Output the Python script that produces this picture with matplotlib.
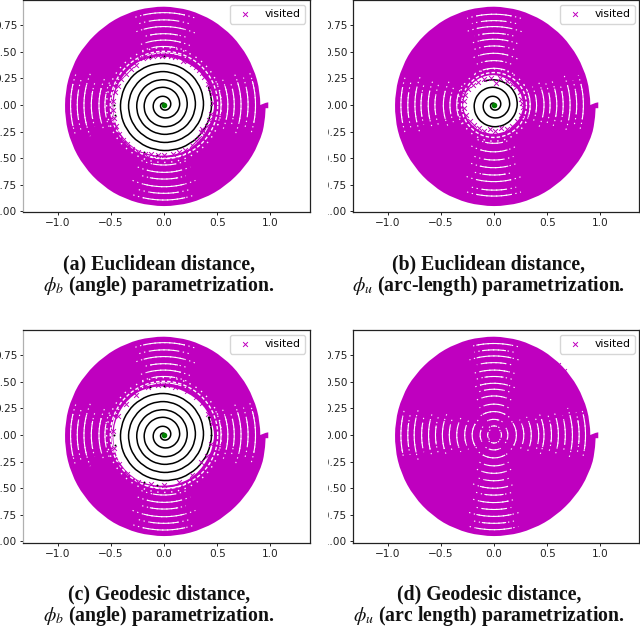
import numpy as np
import matplotlib
matplotlib.use("Agg")
import matplotlib.pyplot as plt
from matplotlib.path import Path
from matplotlib.patches import PathPatch
from matplotlib.transforms import Bbox

plt.rcParams['mathtext.fontset'] = 'stix'

# ---- outer edge of the visited region (polar: degrees, radius)
edge_deg = [0, 15, 30, 45, 60, 75, 90, 105, 120, 135, 150, 165, 180, 195, 210, 225, 240, 255, 270, 285, 300, 315, 330, 345, 356]
edge_r = [.905, .905, .905, .91, .915, .92, .924, .925, .925, .925, .93, .93, .93, .935, .94, .945, .95, .95, .95, .95, .95, .95, .955, .96, .955]
tip_x = [.955, .98, .98, .955]
tip_y = [-.03, -.03, .025, .02]

# ---- unvisited centre (polar)
hole_deg = [0, 30, 60, 90, 120, 150, 180, 210, 240, 270, 300, 330, 360]
hole_r_wide = [.47, .46, .45, .455, .47, .47, .475, .49, .49, .475, .475, .465, .47]
hole_r_narrow = [.275, .27, .27, .28, .285, .285, .29, .28, .275, .27, .27, .27, .275]

# ---- speckled ring just outside the centre
ring_wide = [.505, .54]
ring_narrow = [.305, .34]

# ---- black trajectory: radius at each 22.5 degree step
spiral_step_deg = 22.5
spiral_r = [0, .004, .008, .012, .016, .020, .024, .028, .032, .035, .039, .043, .047, .051, .055, .059,
            .063, .067, .071, .076, .081, .086, .091, .096, .101, .106, .111, .116, .121, .127, .133, .140,
            .147, .151, .156, .161, .166, .171, .176, .181, .186, .191, .196, .200, .204, .208, .212, .214,
            .218, .223, .228, .232, .237, .242, .247, .252, .256, .261, .266, .271, .276, .280, .285, .290,
            .295, .300, .304, .309, .314, .318, .323, .328, .333, .337, .342, .347, .352, .356, .361, .366,
            .371, .376, .381, .385, .390, .395, .400, .404, .409, .414, .419, .423, .428, .433, .438, .442,
            .447, .451]
spiral_n_wide = 98
spiral_n_narrow = 54

# ---- radii of the unvisited arcs on each axis arm
a_N = [.868, .80, .737, .67, .61, .55, .49]
a_E = [.86, .79, .724, .66, .60, .536]
a_W = [.878, .815, .752, .683, .611, .555, .49]
a_S = [.893, .83, .768, .696, .633, .564, .50]

b_N = [.853, .793, .737, .674, .618, .555, .486, .417, .345]
b_E = [.84, .777, .715, .65, .59, .527, .47, .40, .34]
b_W = [.875, .81, .743, .686, .618, .555, .476, .414, .35]
b_S = [.856, .80, .72, .658, .589, .517, .44, .36]

d_N = [.86, .80, .743, .68, .61, .55, .486, .43, .367, .29, .22, .147, .085]
d_E = [.86, .80, .737, .67, .605, .54, .47, .42, .35, .28, .21, .13, .07]
d_W = [.875, .81, .75, .68, .615, .55, .485, .42, .35, .275, .205, .13, .06]
d_S = [.89, .83, .765, .70, .635, .565, .50, .43, .36, .29, .215, .14, .075]

# ---- how far each arc reaches, relative to the panel's typical reach, outermost first
solid_reach = [1.0, .7, 1.05, .75, .95, .65, 1.0, .7, .9, .75, 1.0, .5, .3]
dotted_reach = [1.0, .85, 1.1, .8, 1.0, .9, 1.1, .85, 1.0, .9, 1.0, .6, .4]

# ---- scattered visited points around the centre
a_x = [-.2, -.15, -.1, -.06, -.02, .03, .07, .1, .18, .22, .26, .3, .33, .36, .38, .41, .43, .45, .46, .44, .42, .4, .37, .35, .36, .33, .3, .26, .2, .14, .08, .0, -.06, -.12, -.18, -.24, -.3, -.35, -.39, -.42, -.45, -.47, -.48, -.48, -.46, -.43, -.4, -.36, -.31, -.26]
a_y = [.44, .45, .46, .47, .46, .47, .46, .45, .41, .41, .39, .36, .33, .3, .26, .2, .16, .1, .02, -.08, -.14, -.2, -.24, -.25, -.23, -.31, -.34, -.38, -.42, -.44, -.46, -.47, -.47, -.46, -.46, -.44, -.41, -.37, -.33, -.27, -.2, -.12, -.05, .04, .12, .18, .24, .29, .34, .38]
b_x = [-.03, .02, .06, .12, .17, .21, .24, .25, .26, .27, .25, .22, .17, .12, .07, .01, -.04, -.09, -.14, -.19, -.23, -.26, -.28, -.28, -.27, -.24, -.2, -.15, -.09]
b_y = [.25, .21, .25, .23, .2, .17, .12, .06, .02, -.02, -.09, -.15, -.2, -.23, -.22, -.24, -.23, -.24, -.22, -.19, -.15, -.09, -.03, .04, .09, .15, .19, .22, .24]
c_x = [-.15, -.06, .03, .1, .22, .3, .36, .41, .45, .44, .4, .35, .26, .14, .0, -.12, -.24, -.35, -.42, -.47, -.48, -.43, -.36, -.26]
c_y = [.45, .47, .47, .45, .41, .36, .3, .2, .1, -.08, -.2, -.25, -.38, -.44, -.47, -.46, -.44, -.37, -.27, -.12, .04, .18, .29, .38]
d_x = [-.62, -.66, .6, .66, -.55, .58, .78, -.7]
d_y = [.63, .58, .66, .6, -.7, -.68, -.45, -.53]

# ---- isolated trajectory fragments beyond the hole edge
a_black_x = [-.47, .44, .42, -.46, -.07, -.19, .0, -.13]
a_black_y = [.0, .0, .17, -.09, -.47, -.44, .46, .45]

# ---- chart text and ticks
x_ticks = [-1.0, -0.5, 0.0, 0.5, 1.0]
y_ticks = [-1.0, -0.75, -0.5, -0.25, 0.0, 0.25, 0.5, 0.75]
captions = [
    ("(a) Euclidean distance,", r"$\phi_b$ (angle) parametrization."),
    ("(b) Euclidean distance,", r"$\phi_u$ (arc-length) parametrization."),
    ("(c) Geodesic distance,", r"$\phi_b$ (angle) parametrization."),
    ("(d) Geodesic distance,", r"$\phi_u$ (arc length) parametrization."),
]

W, H = 640, 628
PURPLE = 'm'
fig = plt.figure(figsize=(W / 100, H / 100), dpi=100)


def polar(deg, r):
    t = np.radians(np.asarray(deg, float))
    r = np.asarray(r, float)
    return r * np.cos(t), r * np.sin(t)


def curve_vertices(deg, r):
    """Quadratic Bezier vertices and codes through polar samples."""
    deg = np.asarray(deg, float)
    r = np.asarray(r, float)
    verts = [tuple(np.ravel(polar(deg[:1], r[:1])))]
    codes = [Path.MOVETO]
    for i in range(len(deg) - 1):
        step = deg[i + 1] - deg[i]
        mid_r = (r[i] + r[i + 1]) / 2 / np.cos(np.radians(step / 2))
        cx, cy = polar(deg[i] + step / 2, mid_r)
        ex, ey = polar(deg[i + 1], r[i + 1])
        verts += [(float(cx), float(cy)), (float(ex), float(ey))]
        codes += [Path.CURVE3, Path.CURVE3]
    return verts, codes


def draw_arm(ax, radii, centre_deg, half_solid, half_dotted, shift=0.0):
    for k, r in enumerate(radii):
        size = 0.5 + 0.5 * r / .9
        for half, style in ((half_dotted * dotted_reach[k] * size, (0, (1.2, 3.2))),
                            (half_solid * solid_reach[k] * size, '-')):
            half_deg = np.degrees(np.arcsin(min(half / r, 1.0)))
            t = np.linspace(centre_deg + shift - half_deg, centre_deg + shift + half_deg, 40)
            x, y = polar(t, np.full_like(t, r))
            ax.plot(x, y, color='white', lw=0.8, ls=style, zorder=3, solid_capstyle='butt')


def panel(px_left, px_right, px_top, px_bottom, x0, y0, arms, half_solid, half_dotted,
          hole_r, rings, n_spiral, vis_x, vis_y, bx, by, left_color, clip_left, caption, cap_y):
    ax = fig.add_axes([px_left / W, 1 - px_bottom / H, (px_right - px_left) / W, (px_bottom - px_top) / H])
    scale = 106.4
    ax.set_xlim((px_left - x0) / scale, (px_right - x0) / scale)
    ax.set_ylim((y0 - px_bottom) / scale, (y0 - px_top) / scale)

    v, c = curve_vertices(edge_deg, edge_r)
    v = v + list(zip(tip_x, tip_y)) + [v[0]]
    c = c + [Path.LINETO] * len(tip_x) + [Path.CLOSEPOLY]
    ax.add_patch(PathPatch(Path(v, c), fc=PURPLE, ec='none', lw=0, zorder=2))

    N, E, W_, S = arms
    draw_arm(ax, N, 90, half_solid, half_dotted)
    draw_arm(ax, E, 0, half_solid, half_dotted, shift=2)
    draw_arm(ax, W_, 180, half_solid, half_dotted)
    draw_arm(ax, S, 270, half_solid, half_dotted)

    if rings is not None:
        for r, pattern in zip(rings, ((0, (2.5, 1.5)), (0, (1, 4)))):
            t = np.linspace(0, 360, 361)
            x, y = polar(t, np.full_like(t, r))
            ax.plot(x, y, color='white', lw=1.0, ls=pattern, zorder=3)

    if hole_r is not None:
        v, c = curve_vertices(hole_deg, hole_r)
        ax.add_patch(PathPatch(Path(v + [v[0]], c + [Path.CLOSEPOLY]), fc='white', ec='none', lw=0, zorder=4))
    if n_spiral:
        r = np.array(spiral_r[:n_spiral])
        v, c = curve_vertices(np.arange(len(r)) * spiral_step_deg, r)
        ax.add_patch(PathPatch(Path(v, c), fc='none', ec='k', lw=1.1, zorder=5))
        ax.scatter(bx, by, c='k', s=2, lw=0, zorder=5)
        ax.scatter([0], [0], c='g', s=16, lw=0, zorder=7)

    ax.scatter(vis_x, vis_y, marker='x', c=PURPLE, s=12, lw=0.7, zorder=6, label='visited')

    ax.set_xticks(x_ticks)
    ax.set_yticks(y_ticks)
    ax.set_xticklabels([f"{v:.1f}".replace('-', '\u2212') for v in x_ticks])
    ax.set_yticklabels([f"{v:.2f}".replace('-', '\u2212') for v in y_ticks])
    ax.tick_params(labelsize=7.6, length=2, width=0.7, pad=2, colors='#222222')
    for s in ax.spines.values():
        s.set_linewidth(0.9)
        s.set_color('#222222')
    ax.spines['left'].set_color(left_color)
    for lab in ax.get_yticklabels():
        lab.set_clip_box(Bbox([[clip_left, 0], [W, H]]))
        lab.set_clip_on(True)

    leg = ax.legend(loc='upper right', fontsize=7.8, scatterpoints=1,
                    bbox_to_anchor=(1.0, 1.0), borderaxespad=0.45)
    leg.set_zorder(10)

    for i, line in enumerate(caption):
        fig.text((x0 - 5) / W, 1 - (cap_y + i * 21.5) / H, line, ha='center', va='center',
                 family='Liberation Serif', weight='bold', fontsize=14.2, color='#111111')
    return ax


arms_a = (a_N, a_E, a_W, a_S)
arms_b = (b_N, b_E, b_W, b_S)
arms_d = (d_N, d_E, d_W, d_S)

panel(22.7, 310, 0, 212, 164, 105, arms_a, .2, .29, hole_r_wide, ring_wide, spiral_n_wide, a_x, a_y,
      a_black_x, a_black_y, '#b0b0b0', 0, captions[0], 264)
panel(353, 639.4, 0, 212, 494, 105, arms_b, .17, .26, hole_r_narrow, ring_narrow, spiral_n_narrow, b_x, b_y,
      [], [], '#222222', 328, captions[1], 264)
panel(22.7, 310, 330, 543, 164, 435, arms_a, .2, .29, hole_r_wide, ring_wide, spiral_n_wide, c_x, c_y,
      a_black_x, a_black_y, '#b0b0b0', 0, captions[2], 594)
panel(353, 639.4, 330, 543, 494, 435, arms_d, .17, .23, None, None, 0, d_x, d_y,
      [], [], '#222222', 328, captions[3], 594)

fig.savefig('out.png', dpi=100)
